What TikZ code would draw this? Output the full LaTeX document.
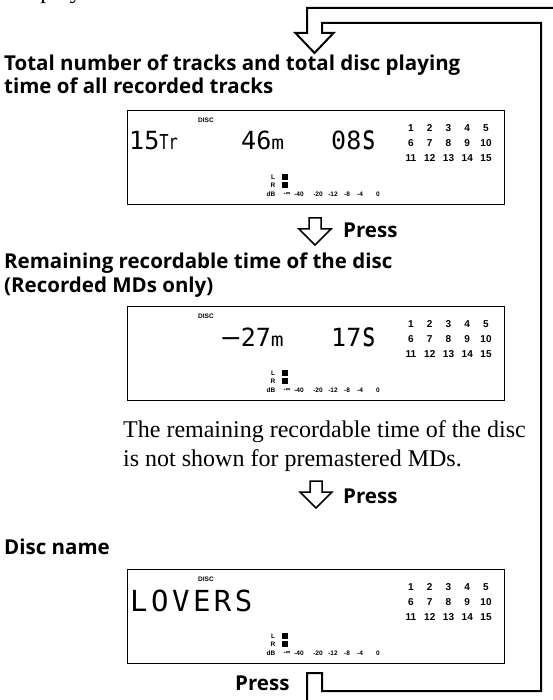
\documentclass[tikz,border=0pt]{standalone}
\usepackage{graphicx}
\usepackage{fontspec}
\setmainfont{Liberation Serif}
\newfontfamily\headfont{Open Sans}
\newfontfamily\lcdfont{DejaVu Sans Mono}
\newfontfamily\lcdwidefont{DejaVu Sans Mono}[LetterSpace=12]
\newfontfamily\labelfont{Liberation Sans}

\newcommand\headsize{\headfont\bfseries\fontsize{20.5}{23}\selectfont}
\newcommand\lcdbig{\lcdfont\fontsize{25}{25}\selectfont}
\newcommand\lcdtr{\scalebox{0.62}[0.82]{Tr}}
\newcommand\lcdmin{\scalebox{0.85}[0.75]{m}}
\newcommand\lcdsec{\scalebox{1}[1.35]{s}}

\begin{document}
\begin{tikzpicture}[x=1pt, y=-1pt,
    heading/.style={anchor=base west, inner sep=0pt, font=\headsize},
    bodytext/.style={anchor=base west, inner sep=0pt, font=\fontsize{24}{29}\selectfont},
    panel/.style={draw, line width=1.3pt, anchor=north west, inner sep=0pt,
      minimum width=377pt, minimum height=94pt},
    lcd/.style={anchor=base west, inner sep=0pt, font=\lcdbig},
    tinylabel/.style={inner sep=0pt, font=\labelfont\bfseries\fontsize{6.5}{7}\selectfont},
    gridnum/.style={inner sep=0pt, font=\labelfont\bfseries\fontsize{10}{10}\selectfont},
    loopline/.style={line width=2pt, line join=miter},
    pressarrow/.pic={
      \draw[line width=1.5pt, line join=miter]
        (-6,-27) -- (-6,-16) -- (-16,-16) -- (0,0) -- (16,-16) -- (6,-16) -- (6,-27) -- cycle;
    }]
  \useasboundingbox (0,0) rectangle (552,700);

  % End of the sentence on the previous page (cut off).
  \node[bodytext, anchor=base east] (display) at (82,-1) {display};

  % First display.
  \node[heading] (title1a) at (4,71) {Total number of tracks and total disc playing};
  \node[heading] (title1b) at (4,94) {time of all recorded tracks};
  \node[panel] (panel1) at (127,110) {};
  \node[lcd] (tracks) at (129,150) {15\lcdtr};
  \node[lcd] (minutes1) at (241,150) {46\lcdmin};
  \node[lcd] (seconds1) at (331,150) {08\lcdsec};

  \pic at (315,245) {pressarrow};
  \node[heading] (press1) at (343,238) {Press};

  % Second display.
  \node[heading] (title2a) at (4,269) {Remaining recordable time of the disc};
  \node[heading] (title2b) at (4,292) {(Recorded MDs only)};
  \node[panel] (panel2) at (127,306) {};
  \node[lcd] (minutes2) at (221,346) {\scalebox{1.3}[1]{−}27\lcdmin};
  \node[lcd] (seconds2) at (331,346) {17\lcdsec};

  \node[bodytext] (note1) at (123,437) {The remaining recordable time of the disc};
  \node[bodytext] (note2) at (123,466) {is not shown for premastered MDs.};

  \pic at (316,508) {pressarrow};
  \node[heading] (press2) at (343,503) {Press};

  % Third display.
  \node[heading] (discname) at (4,554) {Disc name};
  \node[panel] (panel3) at (127,569) {};
  \node[anchor=base west, inner sep=0pt, font=\lcdwidefont\fontsize{29}{29}\selectfont]
    (title3) at (130,611) {LOVERS};

  \node[heading] (press3) at (235,690) {Press};

  % Parts shared by the three displays.
  \foreach \p in {1,2,3} {
    \begin{scope}[shift={(panel\p.north west)}]
      \node[tinylabel] (disc\p) at (79,10) {DISC};
      \foreach \k in {1,...,15} {
        \pgfmathtruncatemacro\col{mod(\k-1,5)}
        \pgfmathtruncatemacro\row{(\k-1)/5}
        \node[gridnum] (num\p-\k) at (284+18.75*\col,18+15*\row) {\k};
      }
      \node[tinylabel] (lch\p) at (146,67) {L};
      \node[tinylabel] (rch\p) at (146,75) {R};
      \fill (155,64) rectangle (161,70);
      \fill (155,72) rectangle (161,78);
      \foreach \x/\t [count=\j] in {144/dB, 160/-∞, 172/-40, 191/-20, 206/-12, 220/-8, 233/-4, 251/0}
        \node[tinylabel] (scale\p-\j) at (\x,84) {\t};
    \end{scope}
  }

  % Return loop back to the first display.
  \draw[loopline] (307,705) -- (307,673) -- (322,673) -- (322,691) -- (541,691) -- (541,23)
    -- (322,23) -- (322,33) -- (333.5,33) -- (314.5,53) -- (295.5,33) -- (307,33)
    -- (307,8) -- (560,8);
\end{tikzpicture}
\end{document}
